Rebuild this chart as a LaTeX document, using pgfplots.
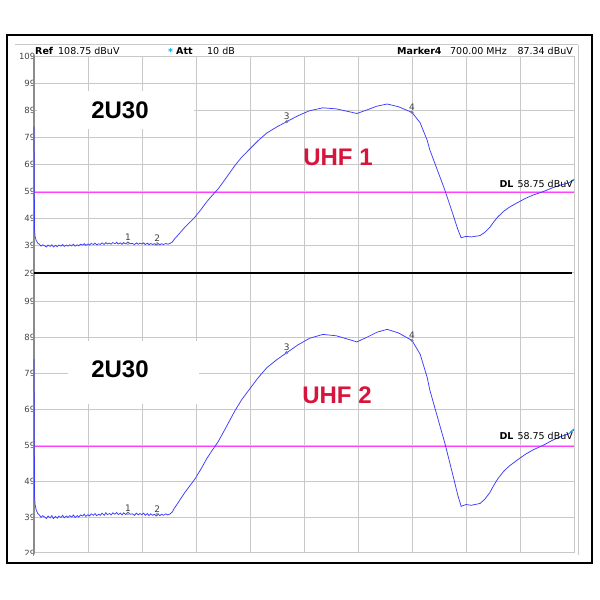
\documentclass[border=0pt]{standalone}
\usepackage{pgfplots}
\pgfplotsset{compat=1.18}
\usepackage{pgfplotstable}
\usepackage{fontspec}
\setmainfont{Liberation Sans}
\newfontfamily\dv{DejaVu Sans}
\definecolor{gridc}{RGB}{200,200,200}
\definecolor{axisc}{RGB}{140,140,140}
\definecolor{tracec}{RGB}{60,60,255}
\definecolor{dlc}{RGB}{255,64,255}
\definecolor{redc}{RGB}{215,20,60}
\definecolor{tickc}{RGB}{70,70,70}
\definecolor{markc}{RGB}{120,120,120}

\pgfplotstableread{
x y
0 83
0.5 63
1 45
2 42.5
4 41
7 40
10 39.6
13 38.9
16 39.4
20 39.0
23 38.6
26 39.3
30 38.8
33 39.4
36 38.6
40 39.2
43 38.7
46 39.3
50 38.9
53 39.5
56 38.8
60 39.3
63 38.9
66 39.4
70 39.0
73 39.6
76 38.9
80 39.4
83 39.0
86 39.6
90 39.3
93 39.8
96 39.2
100 39.7
103 39.3
106 39.9
110 39.5
113 40.0
116 39.4
120 39.8
123 39.5
126 40.1
130 39.5
133 40.2
136 39.7
140 40.0
143 39.6
146 40.2
150 39.8
153 40.3
156 39.7
160 40.1
163 39.6
166 40.2
170 39.7
174 40.4
178 39.8
182 39.9
186 39.5
190 40.1
193 39.6
196 40.0
200 39.7
203 40.1
206 39.5
210 40.0
213 39.4
216 39.9
220 39.5
223 39.8
226 39.3
230 39.9
233 39.4
236 39.8
240 39.5
244 39.9
248 39.6
252 39.9
256 40.4
260 41.5
266 42.8
272 44.2
280 46
288 47.6
298 49.6
310 52.6
320 55.3
330 57.6
341 60
352 63
362 65.8
372 68.6
385 71.8
400 74.8
415 77.8
431 80.6
450 82.9
468 84.8
489 87
510 88.8
535 89.9
560 89.5
585 88.4
598 87.8
615 89
635 90.5
654 91.3
675 90.3
700 88.2
715 84.4
728 78
733 74.4
745 68
761 59.5
776 50.5
785 45
791 42
800 42.5
810 42.3
826 42.8
835 44
844 45.8
852 48
859 49.7
870 51.8
880 53.2
894 54.8
910 56.5
925 57.8
943 59
960 60.4
975 61.4
990 62.2
1000 63.3
}\trace

\pgfplotstableread{
x y l
174 40.0 1
228 39.8 2
468 84.8 3
700 88.2 4
}\mk

\pgfplotsset{
  panel/.style={
    scale only axis, width=540pt, xmin=0, xmax=1000, ymin=29,
    xtick={0,100,...,1000}, xticklabels={},
    major tick length=0pt,
    grid=major, grid style={draw=gridc, line width=1pt},
    axis line style={draw=none},
    /pgf/number format/assume math mode=true,
    yticklabel style={font=\dv\fontsize{8.5}{9}\selectfont, text=tickc, inner sep=0.5pt, anchor=east, xshift=2pt},
    clip=false,
  },
  mkstyle/.style={only marks, mark=o, mark size=1.4pt, draw=markc,
    nodes near coords, point meta=explicit symbolic,
    nodes near coords style={font=\dv\fontsize{9}{10}\selectfont, text=black!75, anchor=south, inner sep=0.5pt, yshift=1.5pt}},
}

\begin{document}
\begin{tikzpicture}
\fill[white] (0pt,0pt) rectangle (600pt,600pt);
\useasboundingbox (0pt,0pt) rectangle (600pt,600pt);

% header lines
\draw[gridc, line width=1pt] (15pt,555pt) -- (578pt,555pt);
\draw[gridc, line width=1pt] (578pt,555pt) -- (578pt,45pt);

% top panel
\begin{axis}[panel, at={(34pt,327pt)}, anchor=south west, height=217pt, ymax=109, ytick={29,39,...,109}]
\fill[white] (axis cs:5.6,82.1) rectangle (axis cs:296,96.1);
\draw[axisc, line width=1.8pt] (rel axis cs:0,0) -- (rel axis cs:0,1);
\addplot[dlc, line width=1.6pt] coordinates {(0,58.75) (1000,58.75)};
\addplot[tracec, line width=0.75pt] table[x=x,y=y] {\trace};
\addplot[cyan, line width=1pt] coordinates {(993,62.6) (1000,63.6)};
\addplot[mkstyle] table[x=x,y=y,meta=l] {\mk};
\end{axis}

% bottom panel
\begin{axis}[panel, at={(34pt,47pt)}, anchor=south west, height=280pt, ymax=107, ytick={29,39,...,99}]
\fill[white] (axis cs:63,70.5) rectangle (axis cs:305,88.1);
\draw[axisc, line width=1.8pt] (rel axis cs:0,0) -- (rel axis cs:0,1);
\addplot[dlc, line width=0.9pt] coordinates {(0,58.75) (1000,58.75)};
\addplot[tracec, line width=0.75pt] table[x=x,y=y] {\trace};
\addplot[cyan, line width=1pt] coordinates {(993,62.6) (1000,63.6)};
\addplot[mkstyle] table[x=x,y=y,meta=l] {\mk};
\end{axis}

% separator
\draw[black, line width=2pt] (34pt,327pt) -- (572pt,327pt);
% cut bottom tick label
\fill[white] (12pt,37pt) rectangle (33pt,45pt);

% header texts
\begin{scope}[every node/.style={inner sep=0pt, font=\dv\fontsize{9.5}{10}\selectfont}]
\node[anchor=base west] at (35pt,545pt) {\bfseries Ref};
\node[anchor=base west] at (58pt,545pt) {108.75 dBuV};
\node[anchor=base west, text=cyan] at (168pt,544pt) {\bfseries *};
\node[anchor=base west] at (176pt,545pt) {\bfseries Att};
\node[anchor=base west] at (207pt,545pt) {10 dB};
\node[anchor=base west] at (397pt,545pt) {\bfseries Marker4};
\node[anchor=base west] at (450pt,545pt) {700.00 MHz};
\node[anchor=base east] at (573pt,545pt) {87.34 dBuV};
\node[anchor=base east] at (573pt,412pt) {\bfseries DL\hspace{4pt}\mdseries 58.75 dBuV};
\node[anchor=base east] at (573pt,160pt) {\bfseries DL\hspace{4pt}\mdseries 58.75 dBuV};
\end{scope}

% big labels
\node[font=\fontsize{24}{26}\selectfont\bfseries] at (120pt,490pt) {2U30};
\node[font=\fontsize{24}{26}\selectfont\bfseries, text=redc] at (338pt,443pt) {UHF 1};
\node[font=\fontsize{24}{26}\selectfont\bfseries] at (120pt,231pt) {2U30};
\node[font=\fontsize{24}{26}\selectfont\bfseries, text=redc] at (337pt,205pt) {UHF 2};

% outer frame
\draw[black, line width=2pt] (7pt,37pt) rectangle (592pt,565pt);
\end{tikzpicture}
\end{document}
